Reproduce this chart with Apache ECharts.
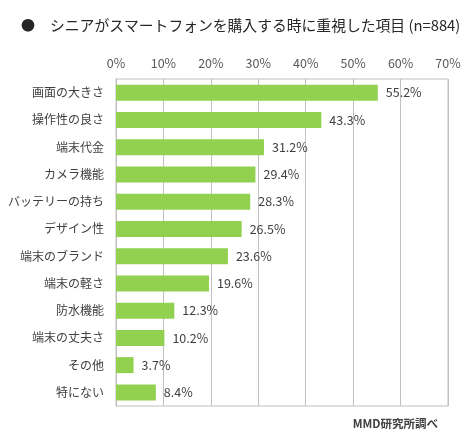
<!DOCTYPE html>
<html><head><meta charset="utf-8">
<script src="https://cdn.jsdelivr.net/npm/echarts@6/dist/echarts.min.js"></script>
<style>html,body{margin:0;padding:0;background:#fff}#c{width:465px;height:444px}</style>
</head><body><div id="c"></div>
<script>
const categories = ['画面の大きさ','操作性の良さ','端末代金','カメラ機能','バッテリーの持ち','デザイン性','端末のブランド','端末の軽さ','防水機能','端末の丈夫さ','その他','特にない'];
const values = [55.2,43.3,31.2,29.4,28.3,26.5,23.6,19.6,12.3,10.2,3.7,8.4];
const bulletText = '●';
const titleText = 'シニアがスマートフォンを購入する時に重視した項目 (n=884)';
const sourceText = 'MMD研究所調べ';
const font = '"Noto Sans CJK JP", "Noto Sans", sans-serif';
const chart = echarts.init(document.getElementById('c'));
chart.setOption({
  animation:false,
  title:[{text:bulletText,left:16,top:13,textStyle:{fontFamily:font,fontSize:14,fontWeight:'normal',color:'#262626'}},
         {text:titleText,left:45,top:13,textStyle:{fontFamily:font,fontSize:14.8,fontWeight:'normal',color:'#262626'}},
         {text:sourceText,right:22,top:413,textStyle:{fontFamily:font,fontSize:11.5,fontWeight:'bold',color:'#404040'}}],
  grid:{left:116,top:79,width:332,height:327,show:true,borderColor:'#bfbfbf',borderWidth:1},
  xAxis:{type:'value',position:'top',min:0,max:70,interval:10,
    axisLine:{show:false},axisTick:{show:false},
    splitLine:{lineStyle:{color:'#bfbfbf',width:1}},
    axisLabel:{formatter:'{value}%',fontFamily:font,fontSize:12.5,color:'#595959',margin:9}},
  yAxis:{type:'category',data:categories,inverse:true,
    axisLine:{lineStyle:{color:'#bfbfbf'}},axisTick:{show:false},
    axisLabel:{fontFamily:font,fontSize:12,color:'#404040',margin:12}},
  series:[{type:'bar',data:values,barWidth:16,itemStyle:{color:'#92d050'},
    label:{show:true,position:'right',distance:8,formatter:p=>p.value.toFixed(1)+'%',fontFamily:font,fontSize:12.5,color:'#404040'}}]
});
</script></body></html>
